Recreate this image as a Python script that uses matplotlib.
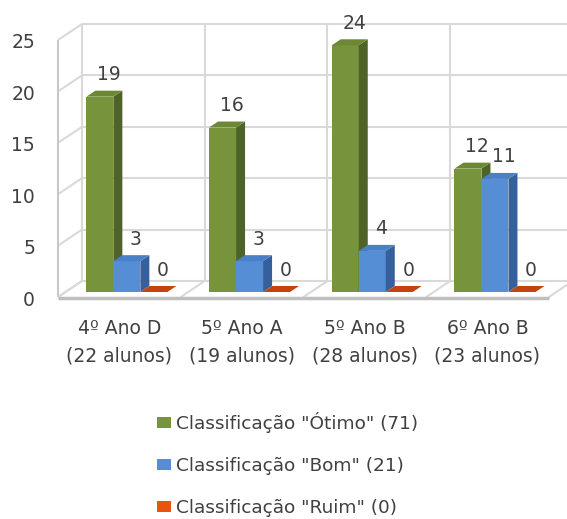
import matplotlib
matplotlib.use('Agg')
import matplotlib.pyplot as plt
from matplotlib.patches import Polygon, Patch

# ---- data ----
class_names = ['4º Ano D', '5º Ano A', '5º Ano B', '6º Ano B']
class_sizes = ['(22 alunos)', '(19 alunos)', '(28 alunos)', '(23 alunos)']
otimo = [19, 16, 24, 12]
bom = [3, 3, 4, 11]
ruim = [0, 0, 0, 0]
series_labels = ['Classificação "Ótimo" (71)', 'Classificação "Bom" (21)',
                 'Classificação "Ruim" (0)']
yticks = [0, 5, 10, 15, 20, 25]

# ---- style ----
face_cols = ['#77933C', '#558ED5', '#D9541A']
side_cols = ['#4F6228', '#35609C', '#A33A0E']
top_cols = ['#6C8834', '#4A80C8', '#C4440F']
legend_cols = ['#77933C', '#558ED5', '#E8540E']
grid_col = '#D9D9D9'
txt_col = '#404040'
FONT = 'DejaVu Sans'

W, H = 567, 519
fig = plt.figure(figsize=(W / 100, H / 100), dpi=100)
ax = fig.add_axes([0, 0, 1, 1])
ax.axis('off')

# scale: category units horizontally, value units vertically
X0, CW, Y0, VU = 58, 122.7, 297, 10.28
ax.set_xlim(-X0 / CW, (W - X0) / CW)
ax.set_ylim(-(H - Y0) / VU, Y0 / VU)
DX, DY = 24 / CW, 16 / VU   # full depth offset (front -> back wall)
ncat = len(class_names)
vmax = yticks[-1]


def P(x, v, d):
    return (x + DX * d, v + DY * d)


def line(p1, p2, **kw):
    ax.plot([p1[0], p2[0]], [p1[1], p2[1]], solid_capstyle='butt', **kw)


# back wall
for v in yticks:
    line(P(0, v, 1), P(ncat, v, 1), color=grid_col, lw=1.5, zorder=1)
for i in range(ncat + 1):
    line(P(i, 0, 1), P(i, vmax, 1), color=grid_col, lw=1.5, zorder=1)
# left side wall
for v in yticks:
    line(P(0, v, 0), P(0, v, 1), color=grid_col, lw=1.5, zorder=1)
line(P(0, 0, 0), P(0, vmax, 0), color='#C8C8C8', lw=1.5, zorder=1)
# floor
for i in range(ncat + 1):
    line(P(i, 0, 0), P(i, 0, 1), color=grid_col, lw=1.5, zorder=1)
line(P(0, -0.05, 0), P(ncat, -0.05, 0), color='#BFBFBF', lw=2.5, zorder=1)

# bars
BW = 27 / CW
gap = (1 - 3 * BW) / 2
d0, d1 = 5 / 16, 11 / 16
series = [otimo, bom, ruim]
z = 2
for i in range(ncat):
    for j, vals in enumerate(series):
        v = vals[i]
        x0 = i + gap + j * BW
        x1 = x0 + BW
        if v > 0:
            ax.add_patch(Polygon([P(x0, 0, d0), P(x1, 0, d0), P(x1, v, d0), P(x0, v, d0)],
                                 closed=True, fc=face_cols[j], ec='none', zorder=z))
            ax.add_patch(Polygon([P(x1, 0, d0), P(x1, 0, d1), P(x1, v, d1), P(x1, v, d0)],
                                 closed=True, fc=side_cols[j], ec='none', zorder=z))
        ax.add_patch(Polygon([P(x0, v, d0), P(x1, v, d0), P(x1, v, d1), P(x0, v, d1)],
                             closed=True, fc=top_cols[j], ec='none', zorder=z))
        z += 1
        ax.annotate(str(v), xy=P((x0 + x1) / 2, v, d1), xytext=(0, 16),
                    textcoords='offset pixels', ha='center', va='center',
                    fontsize=13.5, color=txt_col, family=FONT, zorder=50)

# y tick labels
for v in yticks:
    ax.annotate(str(v), xy=P(0, v, 0), xytext=(-23, -3), textcoords='offset pixels',
                ha='right', va='center', fontsize=13.5, color=txt_col, family=FONT)

# category labels
for i in range(ncat):
    ax.annotate(class_names[i], xy=P(i + 0.5, 0, 0), xytext=(0, -31),
                textcoords='offset pixels', ha='center', va='center',
                fontsize=13.5, color=txt_col, family=FONT)
    ax.annotate(class_sizes[i], xy=P(i + 0.5, 0, 0), xytext=(0, -59),
                textcoords='offset pixels', ha='center', va='center',
                fontsize=13.5, color=txt_col, family=FONT)

# legend
handles = [Patch(fc=c, ec='none') for c in legend_cols]
leg = fig.legend(handles, series_labels, loc='upper left',
                 bbox_to_anchor=(157 / W, 1 - 412 / H), frameon=False,
                 borderpad=0, borderaxespad=0, labelspacing=1.3,
                 handlelength=0.78, handleheight=0.6, handletextpad=0.25,
                 prop={'family': FONT, 'size': 13.3})
for t in leg.get_texts():
    t.set_color(txt_col)

fig.savefig('out.png', dpi=100)
